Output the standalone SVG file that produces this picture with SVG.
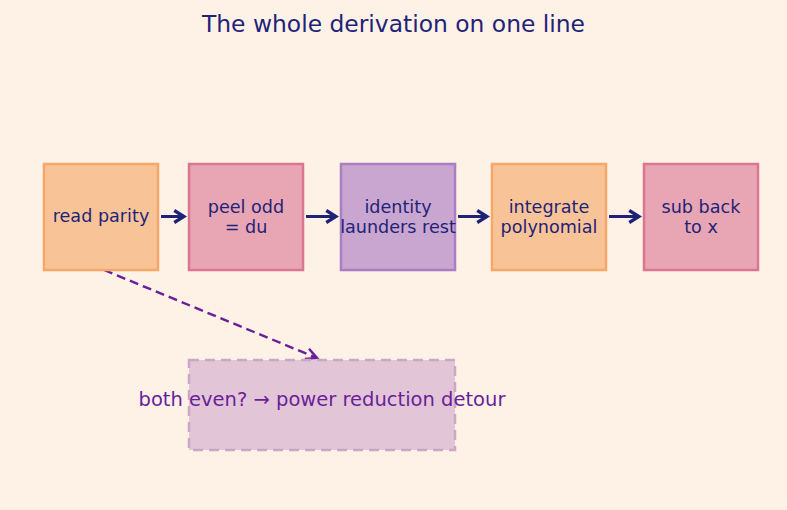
<svg xmlns="http://www.w3.org/2000/svg" width="787" height="510" viewBox="0 0 787 510">
<defs>
<style>
text{font-family:"DejaVu Sans","Noto Sans",sans-serif}
.t{font-size:17.6px;fill:#1f2378;text-anchor:middle}
.org rect{fill:#f8c497;stroke:#f6a86a;stroke-width:2.5}
.pnk rect{fill:#e8a6b4;stroke:#da7690;stroke-width:2.5}
.pur rect{fill:#c9a6cf;stroke:#a97ec2;stroke-width:2.5}
.flow{stroke:#1f2378;stroke-width:3;fill:none}
</style>
<marker id="ah" viewBox="0 0 10 10" refX="8" refY="5" markerWidth="5" markerHeight="5" orient="auto"><path d="M1.5,1 L8,5 L1.5,9" fill="none" stroke="#1f2378" stroke-width="2.2"/></marker>
<marker id="ahp" viewBox="0 0 10 10" refX="8" refY="5" markerWidth="6.5" markerHeight="6.5" orient="auto"><path d="M1,1.5 L8,5 L1,8.5" fill="none" stroke="#6a1f9a" stroke-width="1.6"/></marker>
</defs>
<rect width="787" height="510" fill="#fef1e6"/>
<text x="393.5" y="32" font-size="23.4" fill="#1f2378" text-anchor="middle">The whole derivation on one line</text>
<g id="connectors">
<line class="flow" x1="161" y1="216.5" x2="184" y2="216.5" marker-end="url(#ah)"/>
<line class="flow" x1="306" y1="216.5" x2="336" y2="216.5" marker-end="url(#ah)"/>
<line class="flow" x1="458" y1="216.5" x2="487" y2="216.5" marker-end="url(#ah)"/>
<line class="flow" x1="609" y1="216.5" x2="639" y2="216.5" marker-end="url(#ah)"/>
<line x1="104" y1="270" x2="317" y2="358" stroke="#6a1f9a" stroke-width="2.4" stroke-dasharray="9,5" marker-end="url(#ahp)"/>
</g>
<g id="n1" class="org"><rect x="44" y="164" width="114" height="106"/><text class="t" x="101" y="222">read parity</text></g>
<g id="n2" class="pnk"><rect x="189" y="164" width="114" height="106"/><text class="t" x="246" y="212.5">peel odd</text><text class="t" x="246" y="233">= du</text></g>
<g id="n3" class="pur"><rect x="341" y="164" width="114" height="106"/><text class="t" x="398" y="212.5">identity</text><text class="t" x="398" y="233">launders rest</text></g>
<g id="n4" class="org"><rect x="492" y="164" width="114" height="106"/><text class="t" x="549" y="212.5">integrate</text><text class="t" x="549" y="233">polynomial</text></g>
<g id="n5" class="pnk"><rect x="644" y="164" width="114" height="106"/><text class="t" x="701" y="212.5">sub back</text><text class="t" x="701" y="233">to x</text></g>
<g id="detour"><rect x="189" y="360" width="266" height="90" fill="#e2c5d6" stroke="#c9a8c8" stroke-width="2.5" stroke-dasharray="10,6"/><text x="322" y="406" font-size="19.5" fill="#6a1f9a" text-anchor="middle">both even? → power reduction detour</text></g>
</svg>
